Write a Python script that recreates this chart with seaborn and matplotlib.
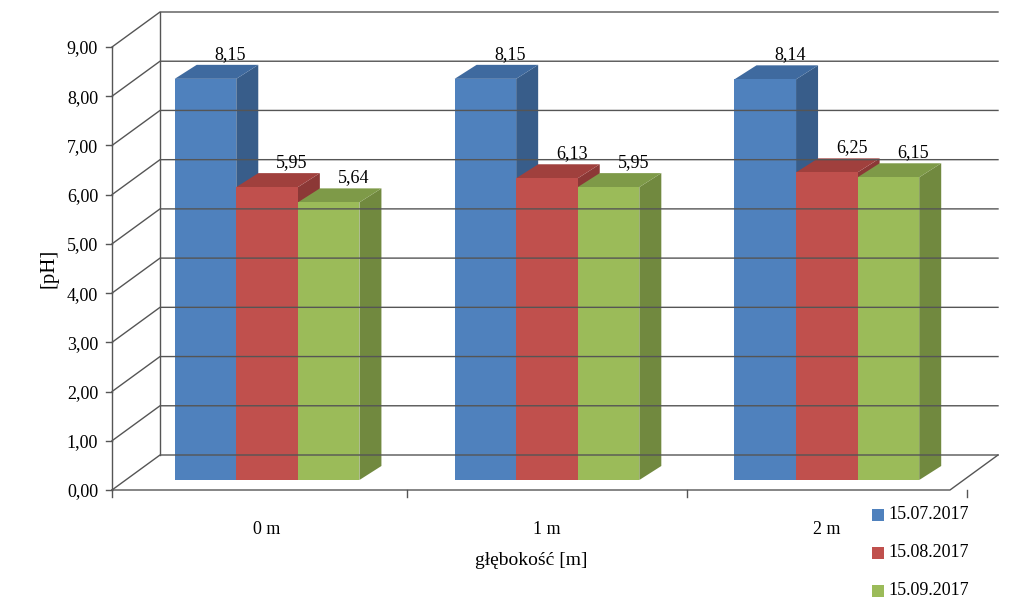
import matplotlib
matplotlib.use('Agg')
import matplotlib.pyplot as plt
from matplotlib.patches import Polygon
from matplotlib.transforms import ScaledTranslation, IdentityTransform
import seaborn as sns
import pandas as pd

# ── Data ──────────────────────────────────────────────────
depths = ['0 m', '1 m', '2 m']
dates = ['15.07.2017', '15.08.2017', '15.09.2017']
ph_0715 = [8.15, 8.15, 8.14]
ph_0815 = [5.95, 6.13, 6.25]
ph_0915 = [5.64, 5.95, 6.15]
y_ticks = [0, 1, 2, 3, 4, 5, 6, 7, 8, 9]

df = pd.DataFrame({
    'depth': depths * 3,
    'date': [d for d in dates for _ in depths],
    'ph': ph_0715 + ph_0815 + ph_0915,
})

front = ['#4F81BD', '#C0504D', '#9BBB59']
side = ['#385D8A', '#8C3836', '#71893F']
top = ['#3F6A9F', '#A0403D', '#7E9A48']

plt.rcParams['font.family'] = 'Liberation Serif'
W, H = 1024, 610
fig = plt.figure(figsize=(W / 100, H / 100), dpi=100)
# front axis: x 112..950 px, y 490 (0) .. 47 (9)
ax = fig.add_axes([112 / W, 1 - 490 / H, (950 - 112) / W, (490 - 47) / H])
ax.set_ylim(0, 9)
ax.set_xlim(-0.554, 2.44)

# ── Walls and gridlines ───────────────────────────────────
DX, DY = 48, 35  # wall depth in px
def px(x, y):
    return ax.transData.transform((x, y))

x0 = ax.get_xlim()[0]
x1 = ax.get_xlim()[1]
for t in y_ticks:
    fx, fy = px(x0, t)
    bx, by = fx + DX, fy + DY
    ex = px(x1, t)[0] + DX
    if t == 0:
        fig.lines.append(plt.Line2D([fx, px(x1, 0)[0], ex], [fy, fy, by],
                                    transform=IdentityTransform(), color='#555555', lw=1))
    fig.lines.append(plt.Line2D([fx, bx, ex], [fy, by, by],
                                transform=IdentityTransform(), color='#555555', lw=1))
    fig.lines.append(plt.Line2D([fx - 6, fx], [fy, fy],
                                transform=IdentityTransform(), color='#555555', lw=1))
fx0, fy0 = px(x0, 0)
fx9, fy9 = px(x0, 9)
fig.lines.append(plt.Line2D([fx0, fx9], [fy0, fy9], transform=IdentityTransform(), color='#555555', lw=1))
fig.lines.append(plt.Line2D([fx0 + DX, fx9 + DX], [fy0 + DY, fy9 + DY], transform=IdentityTransform(), color='#555555', lw=1))
for i in range(4):
    xx = fx0 if i == 0 else px(i - 0.5, 0)[0]
    fig.lines.append(plt.Line2D([xx, xx], [fy0, fy0 - 7], transform=IdentityTransform(), color='#555555', lw=1))

# ── Bars ──────────────────────────────────────────────────
sns.barplot(data=df, x='depth', y='ph', hue='date', palette=front,
            width=0.66, dodge=True, legend=False, ax=ax, saturation=1)
ax.set_xlim(x0, x1)
ax.set_ylim(0, 9)
shift = ScaledTranslation(0, 0.10, fig.dpi_scale_trans)
d = (22, 14)
for i, p in enumerate(ax.patches[:9]):
    k = i // 3
    p.set_transform(ax.transData + shift)
    p.set_zorder(5)
    bx0, bx1, h = p.get_x(), p.get_x() + p.get_width(), p.get_height()
    (ax0, ay0), (ax1, ay1) = px(bx0, 0), px(bx1, h)
    ay0 += 10; ay1 += 10
    ax.add_patch(Polygon([(ax1, ay0), (ax1 + d[0], ay0 + d[1]), (ax1 + d[0], ay1 + d[1]), (ax1, ay1)],
                         closed=True, transform=IdentityTransform(), fc=side[k], ec='none', zorder=4))
    ax.add_patch(Polygon([(ax0, ay1), (ax1, ay1), (ax1 + d[0], ay1 + d[1]), (ax0 + d[0], ay1 + d[1])],
                         closed=True, transform=IdentityTransform(), fc=top[k], ec='none', zorder=4))
    lab = f'{h:.2f}'.replace('.', ',')
    fig.text((ax0 + ax1) / 2 + 25, ay1 + d[1] + 2, lab, transform=IdentityTransform(),
             ha='center', va='bottom', fontsize=13)

# ── Axes text ─────────────────────────────────────────────
for s in ax.spines.values():
    s.set_visible(False)
ax.set_facecolor('none')
ax.set_yticks(y_ticks)
ax.set_yticklabels([f'{t:.2f}'.replace('.', ',') for t in y_ticks], fontsize=13)
ax.tick_params(axis='y', length=0, pad=10)
ax.tick_params(axis='x', length=0, pad=22, labelsize=13)
ax.set_ylabel('[pH]', fontsize=15, labelpad=6)
ax.set_xlabel('głębokość [m]', fontsize=14, labelpad=8)
ax.xaxis.set_label_coords(0.5, -0.14)

# legend
for i, (lbl, c) in enumerate(zip(dates, front)):
    y = 1 - (516 + i * 38) / H
    fig.patches.append(Polygon([(872 / W, y - 0.008), (884 / W, y - 0.008), (884 / W, y + 0.012), (872 / W, y + 0.012)],
                               closed=True, transform=fig.transFigure, fc=c, ec='none'))
    fig.text(888 / W, y + 0.002, lbl, fontsize=13, va='center')

fig.savefig('out.png', dpi=100)
